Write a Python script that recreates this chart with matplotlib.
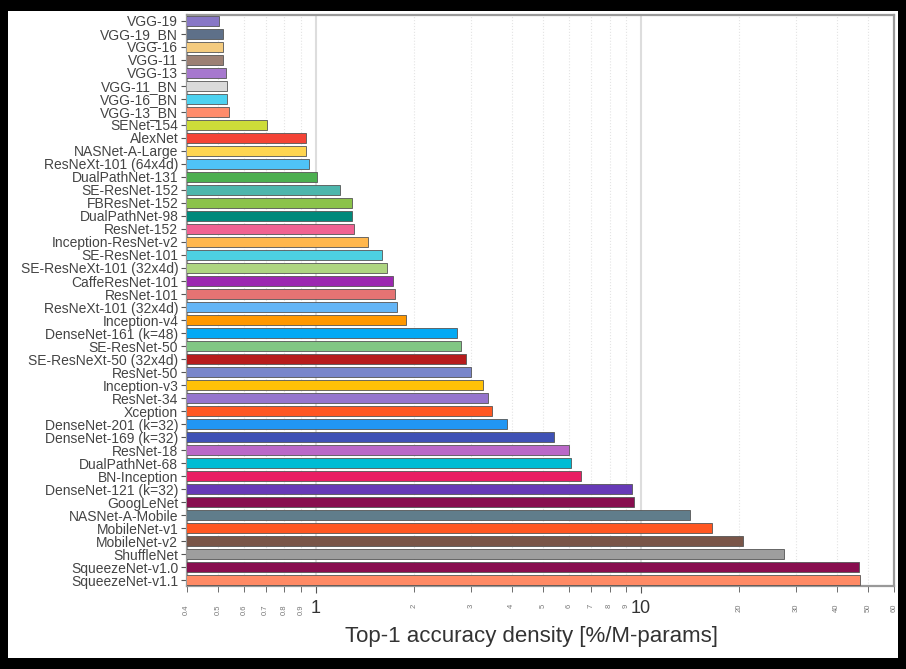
import matplotlib
matplotlib.use("Agg")
import matplotlib.pyplot as plt
from matplotlib.patches import Rectangle
from matplotlib.ticker import FixedLocator, FixedFormatter

plt.rcParams['font.family'] = ['Liberation Sans', 'DejaVu Sans']

# Models, top to bottom
models = [
    'VGG-19', 'VGG-19_BN', 'VGG-16', 'VGG-11', 'VGG-13', 'VGG-11_BN',
    'VGG-16_BN', 'VGG-13_BN', 'SENet-154', 'AlexNet', 'NASNet-A-Large',
    'ResNeXt-101 (64x4d)', 'DualPathNet-131', 'SE-ResNet-152', 'FBResNet-152',
    'DualPathNet-98', 'ResNet-152', 'Inception-ResNet-v2', 'SE-ResNet-101',
    'SE-ResNeXt-101 (32x4d)', 'CaffeResNet-101', 'ResNet-101',
    'ResNeXt-101 (32x4d)', 'Inception-v4', 'DenseNet-161 (k=48)',
    'SE-ResNet-50', 'SE-ResNeXt-50 (32x4d)', 'ResNet-50', 'Inception-v3',
    'ResNet-34', 'Xception', 'DenseNet-201 (k=32)', 'DenseNet-169 (k=32)',
    'ResNet-18', 'DualPathNet-68', 'BN-Inception', 'DenseNet-121 (k=32)',
    'GoogLeNet', 'NASNet-A-Mobile', 'MobileNet-v1', 'MobileNet-v2',
    'ShuffleNet', 'SqueezeNet-v1.0', 'SqueezeNet-v1.1',
]

# Top-1 accuracy density [%/M-params]
density = [
    0.503, 0.517, 0.518, 0.518, 0.528, 0.532,
    0.532, 0.540, 0.706, 0.931, 0.930,
    0.952, 1.006, 1.185, 1.288,
    1.293, 1.306, 1.445, 1.592,
    1.650, 1.720, 1.750,
    1.780, 1.888, 2.71,
    2.79, 2.89, 3.00, 3.27,
    3.38, 3.47, 3.86, 5.39,
    6.00, 6.08, 6.54, 9.40,
    9.54, 14.15, 16.5, 20.6,
    27.6, 46.7, 47.3,
]

colors = [
    '#8877C6', '#5E7089', '#F4CB7F', '#9C8074', '#A678CE', '#DADADA',
    '#4DD2F0', '#FF8C6B', '#CDDC39', '#F44336', '#FFD54F',
    '#4FC3F7', '#4CAF50', '#4DB6AC', '#8BC34A',
    '#00897B', '#F06292', '#FFB74D', '#4DD0E1',
    '#AED581', '#9C27B0', '#E57373',
    '#64B5F6', '#FF9800', '#03A9F4',
    '#81C784', '#B71C1C', '#7986CB', '#FFC107',
    '#9575CD', '#FF5722', '#2196F3', '#3F51B5',
    '#BA68C8', '#00BCD4', '#E91E63', '#673AB7',
    '#880E4F', '#607D8B', '#FF5722', '#795548',
    '#9E9E9E', '#880E4F', '#FF8A65',
]

major_ticks = [1, 10]
minor_ticks = [0.4, 0.5, 0.6, 0.7, 0.8, 0.9,
               2, 3, 4, 5, 6, 7, 8, 9,
               20, 30, 40, 50, 60]

fig = plt.figure(figsize=(9.06, 6.69), dpi=100)
fig.patch.set_facecolor('black')
# white page inside the black frame
fig.patches.append(Rectangle((0.0088, 0.0165), 0.9825, 0.967,
                             transform=fig.transFigure, facecolor='white',
                             edgecolor='none', zorder=-1))

ax = fig.add_axes([0.206, 0.124, 0.7808, 0.8536])
ax.set_zorder(1)
ax.set_facecolor('white')

y = list(range(len(models)))
ax.barh(y, density, height=0.78, color=colors, edgecolor='#555555',
        linewidth=0.6, zorder=3)

ax.set_xscale('log')
ax.set_xlim(0.4, 60)
ax.set_ylim(43.45, -0.45)
ax.set_yticks(y)
ax.set_yticklabels(models, fontsize=10, color='#444444')

ax.xaxis.set_major_locator(FixedLocator(major_ticks))
ax.xaxis.set_major_formatter(FixedFormatter([str(t) for t in major_ticks]))
ax.xaxis.set_minor_locator(FixedLocator(minor_ticks))
ax.xaxis.set_minor_formatter(FixedFormatter([('%g' % t) for t in minor_ticks]))
ax.tick_params(axis='x', which='major', labelsize=13, length=5,
               color='#555555', labelcolor='#333333', pad=5)
ax.tick_params(axis='x', which='minor', labelsize=5.5, length=4,
               color='#555555', labelcolor='#777777', labelrotation=90, pad=9)
ax.tick_params(axis='y', length=4, color='#555555', pad=2)

ax.grid(True, which='major', axis='x', color='#DDDDDD', linewidth=1.5, zorder=0)
ax.grid(True, which='minor', axis='x', color='#E4E4E4', linewidth=0.8,
        linestyle=':', zorder=0)
ax.set_axisbelow(True)

for side in ['top', 'right', 'bottom', 'left']:
    ax.spines[side].set_color('#999999')
    ax.spines[side].set_linewidth(1.6)

ax.set_xlabel('Top-1 accuracy density [%/M-params]', fontsize=16,
              color='#333333', labelpad=8)
ax.xaxis.set_label_coords(0.488, -0.07)

fig.savefig('out.png', dpi=100, facecolor=fig.get_facecolor())
